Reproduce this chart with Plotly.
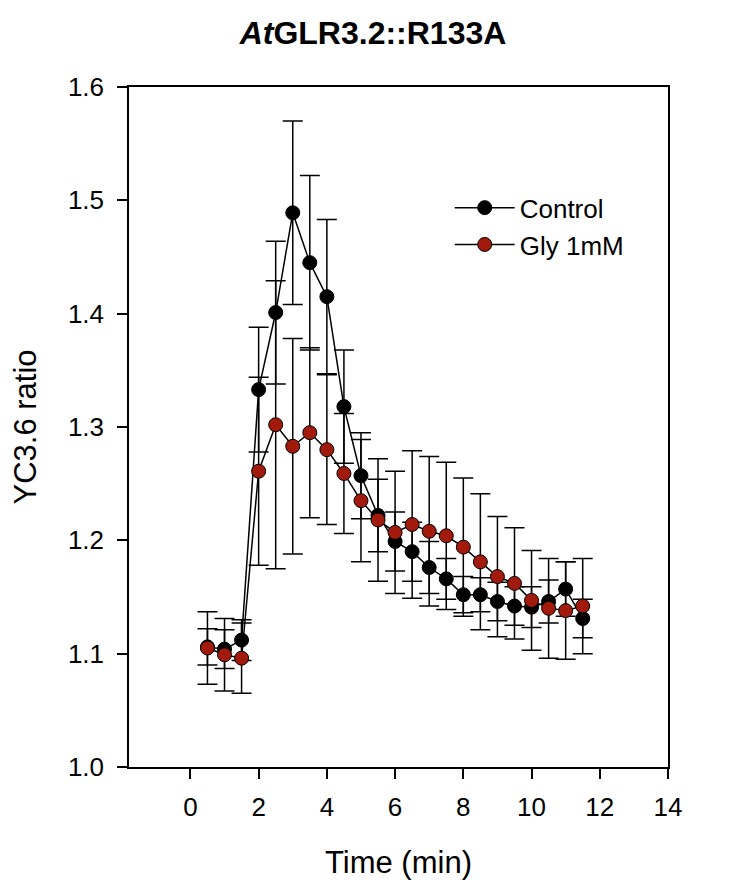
import plotly.graph_objects as go

time_min = [0.5, 1.0, 1.5, 2.0, 2.5, 3.0, 3.5, 4.0, 4.5, 5.0, 5.5, 6.0,
            6.5, 7.0, 7.5, 8.0, 8.5, 9.0, 9.5, 10.0, 10.5, 11.0, 11.5]

control = [1.106, 1.104, 1.112, 1.333, 1.401, 1.489, 1.445, 1.415, 1.318, 1.257, 1.222, 1.199,
           1.190, 1.176, 1.166, 1.152, 1.152, 1.146, 1.142, 1.141, 1.146, 1.157, 1.131]
control_err = [0.016, 0.017, 0.018, 0.055, 0.063, 0.081, 0.077, 0.068, 0.050, 0.038, 0.032, 0.026,
               0.026, 0.023, 0.018, 0.016, 0.015, 0.017, 0.017, 0.018, 0.019, 0.024, 0.017]

gly = [1.105, 1.099, 1.096, 1.261, 1.302, 1.283, 1.295, 1.280, 1.259, 1.235, 1.218, 1.207,
       1.214, 1.208, 1.204, 1.194, 1.181, 1.168, 1.162, 1.147, 1.140, 1.138, 1.142]
gly_err = [0.032, 0.032, 0.031, 0.083, 0.127, 0.095, 0.075, 0.066, 0.053, 0.054, 0.054, 0.054,
           0.065, 0.066, 0.065, 0.061, 0.060, 0.053, 0.049, 0.044, 0.044, 0.043, 0.042]

x_ticks = [0, 2, 4, 6, 8, 10, 12, 14]
y_ticks = [1.0, 1.1, 1.2, 1.3, 1.4, 1.5, 1.6]

FONT = "Liberation Sans, Arial, sans-serif"
RED = "#A11A0C"

fig = go.Figure()
fig.add_trace(go.Scatter(
    x=time_min, y=control, name="Control", mode="lines+markers",
    line=dict(color="black", width=1.5),
    marker=dict(size=14, color="black", line=dict(color="black", width=1)),
    error_y=dict(type="data", array=control_err, visible=True,
                 color="black", thickness=1.5, width=10),
))
fig.add_trace(go.Scatter(
    x=time_min, y=gly, name="Gly 1mM", mode="lines+markers",
    line=dict(color="black", width=1.5),
    marker=dict(size=14, color=RED, line=dict(color="black", width=1)),
    error_y=dict(type="data", array=gly_err, visible=True,
                 color="black", thickness=1.5, width=10),
))

axis_common = dict(
    showline=True, linecolor="black", linewidth=1.5, mirror=True,
    ticks="outside", ticklen=10, tickwidth=1.5, tickcolor="black",
    showgrid=False, zeroline=False,
    tickfont=dict(family=FONT, size=26, color="black"),
)

fig.update_layout(
    width=746, height=882,
    margin=dict(l=121, r=86, t=79, b=123),
    paper_bgcolor="white", plot_bgcolor="white",
    font=dict(family=FONT, color="black"),
    title=dict(text="<b><i>At</i>GLR3.2::R133A</b>", x=365 / 746, xanchor="center",
               xref="container", y=1 - 25 / 882, yanchor="middle", yref="container",
               font=dict(family=FONT, size=32, color="black")),
    xaxis=dict(range=[-1.8, 14], tickvals=x_ticks, ticktext=[str(v) for v in x_ticks],
               ticklabelstandoff=6,
               title=dict(text="Time (min)", font=dict(family=FONT, size=31), standoff=30),
               **axis_common),
    yaxis=dict(range=[1.0, 1.6], tickvals=y_ticks, ticktext=[f"{v:.1f}" for v in y_ticks],
               ticklabelstandoff=8,
               title=dict(text="YC3.6 ratio", font=dict(family=FONT, size=31), standoff=26),
               **axis_common),
    showlegend=True,
    legend=dict(x=0.595, y=0.857, xanchor="left", yanchor="top",
                bgcolor="rgba(0,0,0,0)", borderwidth=0,
                font=dict(family=FONT, size=26, color="black"),
                itemwidth=60, tracegroupgap=0),
)

fig.write_html("out.html")
